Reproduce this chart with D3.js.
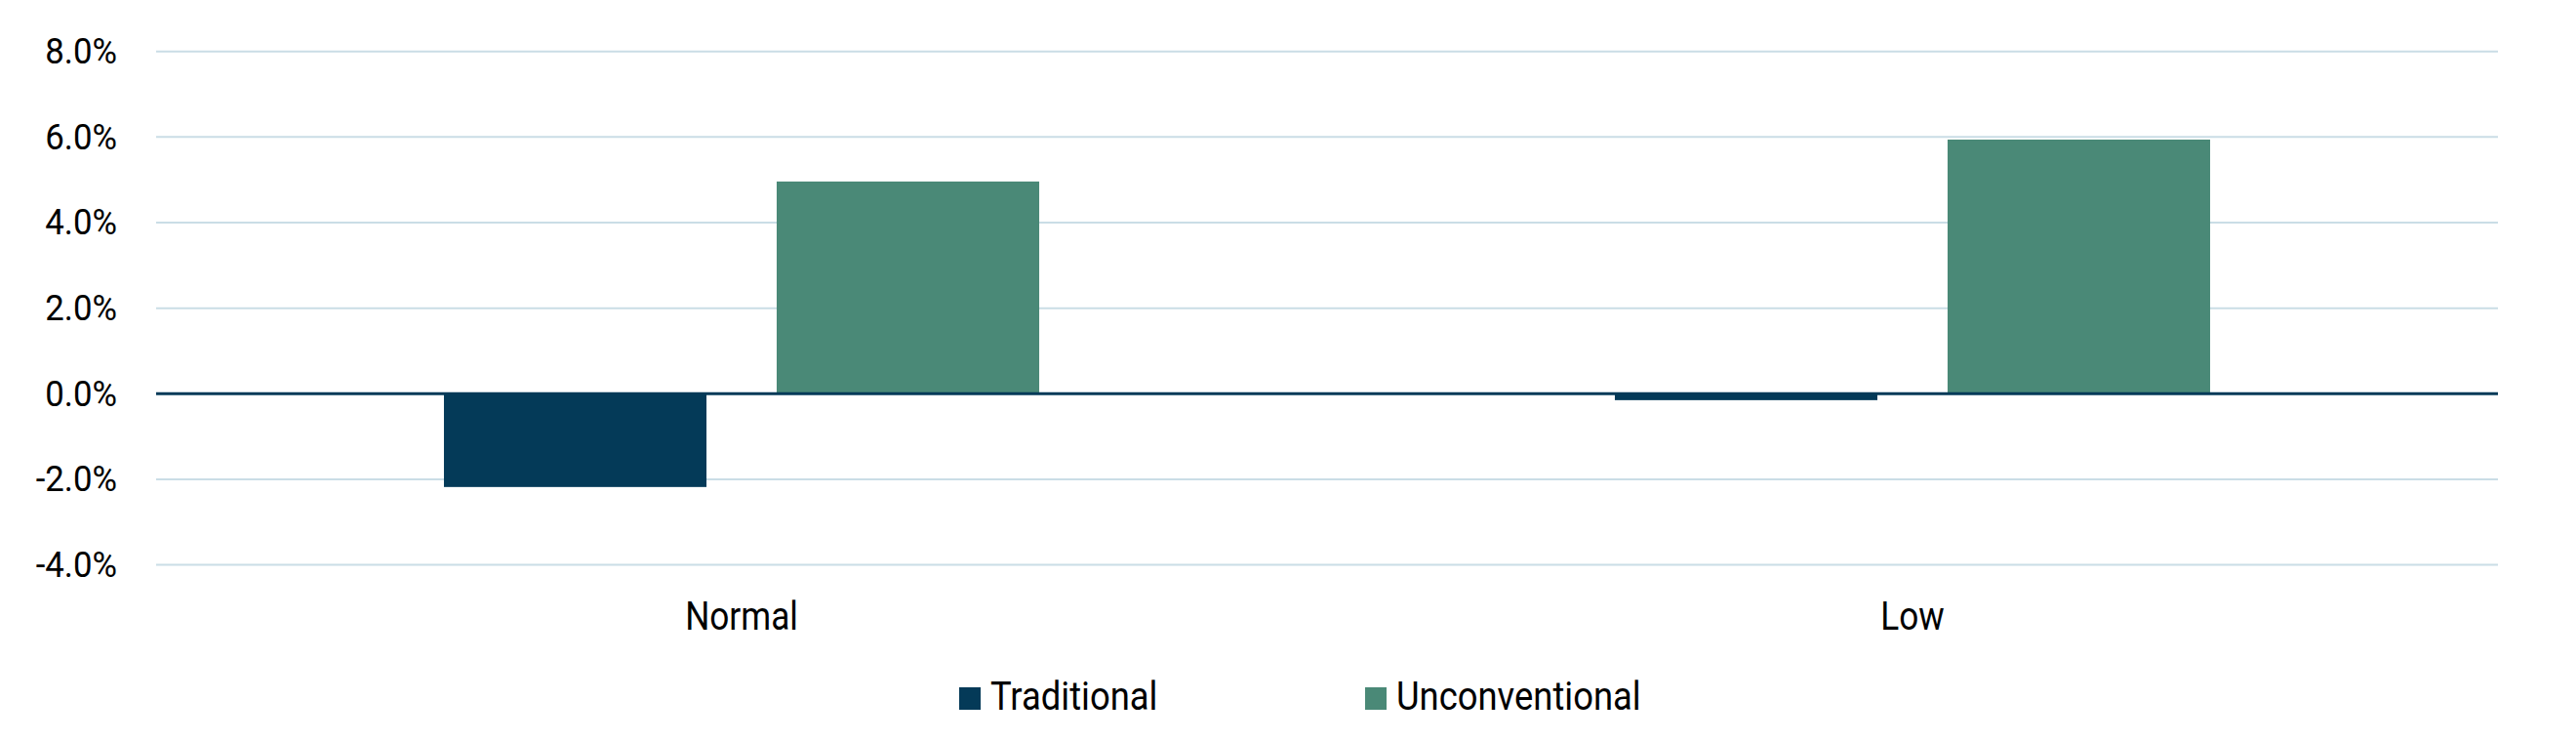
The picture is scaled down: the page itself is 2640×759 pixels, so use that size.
<!DOCTYPE html>
<html>
<head>
<meta charset="utf-8">
<script src="https://cdn.jsdelivr.net/npm/d3@7"></script>
<style>
  html, body { margin: 0; padding: 0; background: #fff; }
  svg { display: block; }
  text { font-family: Roboto, "Open Sans", sans-serif; fill: #000; }
</style>
</head>
<body>
<svg id="chart" width="2640" height="759"></svg>
<script>
// ---- data ----
const categories = ["Normal", "Low"];
const seriesNames = ["Traditional", "Unconventional"];
const traditional = [-2.18, -0.15];
const unconventional = [4.96, 5.94];
const yTicks = [-4, -2, 0, 2, 4, 6, 8];
const seriesColors = ["#043A58", "#4A8977"];

// ---- layout ----
const W = 2640, H = 759;
const plotLeft = 160, plotRight = 2560, plotTop = 52.7, plotBottom = 578.6;
const sxY = 0.94, sxX = 0.88, sxL = 0.91;

const svg = d3.select("#chart");

const y = d3.scaleLinear().domain([-4, 8]).range([plotBottom, plotTop]);
const x0 = d3.scaleBand().domain(categories).range([plotLeft, plotRight]).paddingInner(0).paddingOuter(0);
const x1 = d3.scaleBand().domain(seriesNames).range([0, x0.bandwidth()]).paddingInner(0.211).paddingOuter(0.865);

// gridlines
svg.append("g")
  .selectAll("line")
  .data(yTicks.filter(d => d !== 0))
  .join("line")
  .attr("x1", plotLeft).attr("x2", plotRight)
  .attr("y1", d => y(d)).attr("y2", d => y(d))
  .attr("stroke", "#CADDE6").attr("stroke-width", 2);

// y axis labels
const fmt = d => (d < 0 ? "-" : "") + Math.abs(d).toFixed(1) + "%";
const yAxis = d3.axisLeft(y).tickValues(yTicks).tickFormat(fmt).tickSize(0).tickPadding(0);
const yg = svg.append("g").attr("transform", `translate(${plotLeft - 40},0)`).call(yAxis);
yg.select(".domain").remove();
yg.selectAll("text")
  .attr("x", 0)
  .attr("dy", "0.32em")
  .attr("transform", `scale(${sxY},1)`)
  .style("font-family", "Roboto, sans-serif")
  .style("font-size", "37px")
  .attr("fill", "#000");

// bars
const rows = categories.map((c, i) => ({ cat: c, values: [traditional[i], unconventional[i]] }));
const groups = svg.append("g").selectAll("g")
  .data(rows).join("g")
  .attr("transform", d => `translate(${x0(d.cat)},0)`);
groups.selectAll("rect")
  .data(d => d.values.map((v, j) => ({ name: seriesNames[j], v, j })))
  .join("rect")
  .attr("x", d => x1(d.name))
  .attr("width", x1.bandwidth())
  .attr("y", d => y(Math.max(0, d.v)))
  .attr("height", d => Math.abs(y(d.v) - y(0)))
  .attr("fill", d => seriesColors[d.j]);

// zero line
svg.append("line")
  .attr("x1", plotLeft).attr("x2", plotRight)
  .attr("y1", y(0)).attr("y2", y(0))
  .attr("stroke", "#043A58").attr("stroke-width", 3);

// x axis labels
const xAxis = d3.axisBottom(x0).tickSize(0).tickPadding(0);
const xg = svg.append("g").attr("transform", `translate(0,645)`).call(xAxis);
xg.select(".domain").remove();
xg.selectAll("text")
  .attr("y", 0).attr("dy", 0)
  .attr("transform", `scale(${sxX},1)`)
  .style("font-family", "Roboto, sans-serif")
  .style("font-size", "40px")
  .attr("fill", "#000");

// legend
const legendStart = 983, legendStep = 416;
const lg = svg.append("g").selectAll("g")
  .data(seriesNames).join("g")
  .attr("transform", (d, i) => `translate(${legendStart + i * legendStep},0)`);
lg.append("rect")
  .attr("x", 0).attr("y", 704).attr("width", 22).attr("height", 23)
  .attr("fill", (d, i) => seriesColors[i]);
lg.append("text")
  .attr("x", 32 / sxL).attr("y", 727.5)
  .attr("transform", `scale(${sxL},1)`)
  .style("font-size", "40px")
  .text(d => d);
</script>
</body>
</html>
